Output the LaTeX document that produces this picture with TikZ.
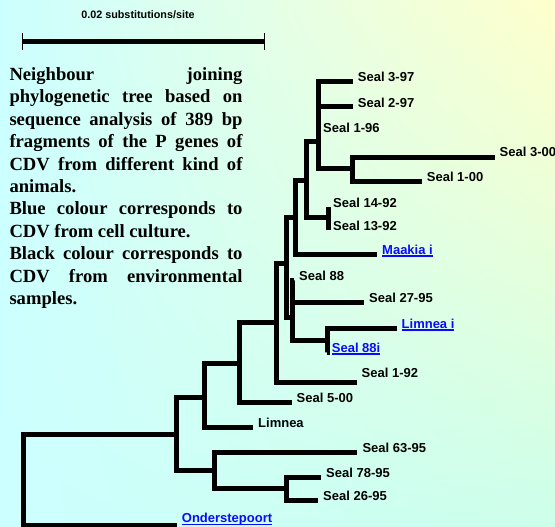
\documentclass[tikz,border=0pt]{standalone}
\usepackage{fontspec}
\setmainfont{Liberation Serif}
\setsansfont{Liberation Sans}
\usetikzlibrary{calc}
\usetikzlibrary{shadings}

\definecolor{bgcyan}{HTML}{CCFFFF}
\definecolor{bgyellow}{HTML}{FFFFCC}
\definecolor{bgmint}{HTML}{CCFFEA}
\definecolor{cellblue}{HTML}{0A0AFF}

\newcommand{\culturelink}[1]{\setbox0\hbox{#1}\rlap{\rule[-2.6pt]{\wd0}{1.3pt}}\box0}

\begin{document}
\begin{tikzpicture}[x = 1pt, y = -1pt, line join = miter, line cap = butt,
  branch/.style = {line width = 5pt},
  leaf/.style = {anchor = base west, inner xsep = 5pt, inner ysep = 0pt,
    font = \sffamily\bfseries\fontsize{13}{15}\selectfont},
  culture/.style = {leaf, text = cellblue}]
  \shade[upper left = bgcyan, upper right = bgyellow, lower left = bgcyan,
  lower right = bgmint] (0, 0) rectangle (555, 527);
  \useasboundingbox (0, 0) rectangle (555, 527);

  \node[font = \sffamily\bfseries\fontsize{10.8}{13}\selectfont, anchor = base,
  inner sep = 0] (units) at (138, 18.3) {0.02 substitutions/site};
  \coordinate (bar1) at (22.7, 41.7);
  \coordinate (bar2) at (264.3, 41.7);
  \draw[line width = 5.5pt] (bar1) -- (bar2);
  \draw[line width = .8pt] ($(bar1) + (0, -8.5)$) -- +(0, 17);
  \draw[line width = .8pt] ($(bar2) + (0, -8.5)$) -- +(0, 17);

  \node[anchor = north west, inner sep = 0, text width = 233pt, align = justify,
  font = \bfseries\fontsize{18.6}{22.4}\selectfont] (caption) at (9.3, 67.4)
  {\setlength{\parindent}{0pt}\tolerance = 10000\relax
  Neighbour joining\linebreak phylogenetic tree based on\linebreak
  sequence analysis of 389 bp\linebreak fragments of the P genes of\linebreak
  CDV from different kind of\linebreak animals.\par
  Blue colour corresponds to\linebreak CDV from cell culture.\par
  Black colour corresponds to\linebreak CDV from environmental\linebreak
  samples.};

  \coordinate (root) at (23, 478);
  \coordinate (nA) at (176.7, 434);
  \coordinate (nB) at (214, 470);
  \coordinate (nC) at (286, 488);
  \coordinate (nD) at (204, 397);
  \coordinate (nE) at (239, 363);
  \coordinate (nF) at (276, 322);
  \coordinate (nG) at (286, 263);
  \coordinate (nH) at (295, 217);
  \coordinate (nI) at (292, 317);
  \coordinate (nJ) at (327, 340);
  \coordinate (nK) at (306, 180);
  \coordinate (nL) at (318, 142);
  \coordinate (nM) at (328, 217);
  \coordinate (nN) at (352, 168);

  \node[leaf] (s397) at (352.7, 82) {Seal 3-97};
  \node[leaf] (s297) at (352.7, 107) {Seal 2-97};
  \node[leaf] (s196) at (318, 132) {Seal 1-96};
  \node[leaf] (s300) at (494.5, 157) {Seal 3-00};
  \node[leaf] (s100) at (421.7, 181) {Seal 1-00};
  \node[leaf] (s1492) at (328, 207) {Seal 14-92};
  \node[leaf] (s1392) at (328, 230) {Seal 13-92};
  \node[culture] (maakia) at (377, 254) {\culturelink{Maakia i}};
  \node[leaf] (s88) at (294, 280) {Seal 88};
  \node[leaf] (s2795) at (364, 302.5) {Seal 27-95};
  \node[culture] (limneai) at (396.5, 328) {\culturelink{Limnea i}};
  \node[culture] (s88i) at (326.7, 352) {\culturelink{Seal 88i}};
  \node[leaf] (s192) at (356.5, 377) {Seal 1-92};
  \node[leaf] (s500) at (291.5, 402) {Seal 5-00};
  \node[leaf] (limnea) at (253, 427) {Limnea};
  \node[leaf] (s6395) at (357.3, 452) {Seal 63-95};
  \node[leaf] (s7895) at (321, 477) {Seal 78-95};
  \node[leaf] (s2695) at (318, 500.5) {Seal 26-95};
  \node[culture] (onder) at (176.7, 522.7) {\culturelink{Onderstepoort}};

  \draw[branch] (root) |- (nA) (root) |- ([yshift = -2.3pt] onder.base west);
  \draw[branch] (nA) |- (nD) (nA) |- (nB);
  \draw[branch] (nB) |- (s6395.base west) (nB) |- (nC);
  \draw[branch] (nC) |- (s7895.base west) (nC) |- (s2695.base west);
  \draw[branch] (nD) |- (nE) (nD) |- (limnea.base west);
  \draw[branch] (nE) |- (nF) (nE) |- (s500.base west);
  \draw[branch] (nF) |- (nG) (nF) |- ([yshift = -5pt] s192.base west);
  \draw[branch] (nG) |- (nH) (nG) |- (nI);
  \draw[branch] (nH) |- (nK) (nH) |- (maakia.base west);
  \draw[branch] (nI) |- (s88.base west) (nI) |- (s2795.base west)
  (nI) |- (nJ);
  \draw[branch] (nJ) |- (limneai.base west) (nJ) |- (s88i.base west);
  \draw[branch] (nK) |- (nL) (nK) |- (nM);
  \draw[branch] (nM) |- (s1492.base west) (nM) |- (s1392.base west);
  \draw[branch] (nL) |- (s397.base west) (nL) |- (s297.base west)
  (nL) |- (s196.base west) (nL) |- (nN);
  \draw[branch] (nN) |- (s300.base west) (nN) |- (s100.base west);
\end{tikzpicture}
\end{document}
